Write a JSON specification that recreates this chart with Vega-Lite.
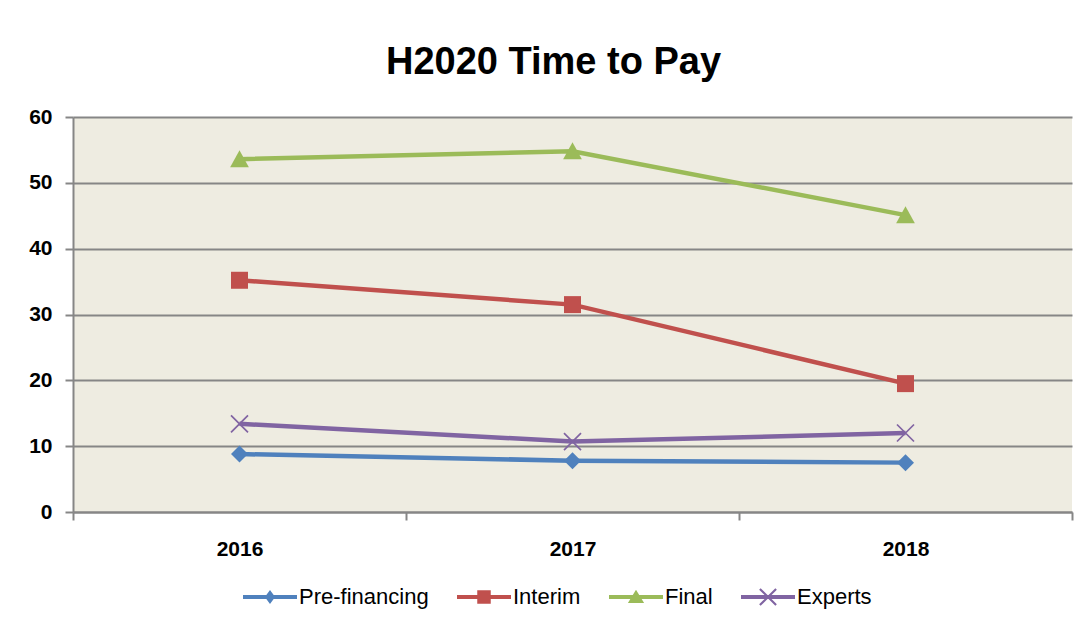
{
  "$schema": "https://vega.github.io/schema/vega-lite/v6.json",
  "autosize": "none",
  "width": 999,
  "height": 395,
  "padding": {"left": 73, "top": 117, "right": 13, "bottom": 114},
  "background": "white",
  "title": {
    "text": "H2020 Time to Pay",
    "font": "Liberation Sans",
    "fontSize": 38,
    "fontWeight": "bold",
    "color": "#000000",
    "anchor": "middle",
    "baseline": "alphabetic",
    "offset": -6,
    "dx": -19
  },
  "config": {
    "view": {"fill": "#EEECE1", "stroke": null},
    "axis": {
      "labelFont": "Liberation Sans",
      "labelFontSize": 21,
      "labelFontWeight": "bold",
      "labelColor": "#000000",
      "domainColor": "#868686",
      "domainWidth": 2,
      "tickColor": "#868686",
      "tickWidth": 2,
      "gridColor": "#868686",
      "gridWidth": 2,
      "title": null
    },
    "legend": {
      "labelFont": "Liberation Sans",
      "labelFontSize": 22,
      "labelColor": "#000000"
    }
  },
  "data": {
    "values": [
      {"series": "Pre-financing", "year": 2016, "days": 8.8},
      {"series": "Pre-financing", "year": 2017, "days": 7.8},
      {"series": "Pre-financing", "year": 2018, "days": 7.5},
      {"series": "Interim", "year": 2016, "days": 35.2},
      {"series": "Interim", "year": 2017, "days": 31.5},
      {"series": "Interim", "year": 2018, "days": 19.5},
      {"series": "Final", "year": 2016, "days": 53.6},
      {"series": "Final", "year": 2017, "days": 54.8},
      {"series": "Final", "year": 2018, "days": 45.1},
      {"series": "Experts", "year": 2016, "days": 13.4},
      {"series": "Experts", "year": 2017, "days": 10.7},
      {"series": "Experts", "year": 2018, "days": 12.0}
    ]
  },
  "encoding": {
    "x": {
      "field": "year",
      "type": "quantitative",
      "scale": {"domain": [2015.5, 2018.5], "nice": false, "zero": false},
      "axis": {
        "values": [2015.5, 2016, 2016.5, 2017, 2017.5, 2018, 2018.5],
        "grid": false,
        "tickSize": 8,
        "labelPadding": 18,
        "tickOpacity": {"condition": {"test": "datum.value % 1 == 0", "value": 0}, "value": 1},
        "labelExpr": "datum.value % 1 == 0 ? format(datum.value, 'd') : ''"
      }
    },
    "y": {
      "field": "days",
      "type": "quantitative",
      "scale": {"domain": [0, 60], "nice": false},
      "axis": {
        "values": [0, 10, 20, 30, 40, 50, 60],
        "grid": true,
        "tickSize": 8,
        "labelPadding": 13
      }
    },
    "color": {
      "field": "series",
      "type": "nominal",
      "scale": {
        "domain": ["Pre-financing", "Interim", "Final", "Experts"],
        "range": ["#4F81BD", "#C0504D", "#9BBB59", "#8064A2"]
      },
      "legend": null
    }
  },
  "layer": [
    {
      "mark": {"type": "line", "strokeWidth": 4.5},
      "encoding": {
        "color": {
          "field": "series",
          "type": "nominal",
          "scale": {
            "domain": ["Pre-financing", "Interim", "Final", "Experts"],
            "range": ["#4F81BD", "#C0504D", "#9BBB59", "#8064A2"]
          },
          "legend": {
            "title": null,
            "orient": "none",
            "direction": "horizontal",
            "legendX": 170,
            "legendY": 453,
            "padding": 0,
            "symbolSize": 2916,
            "symbolStrokeWidth": 0,
            "symbolOpacity": 1,
            "labelOffset": 2,
            "columnPadding": 28,
            "encode": {
              "symbols": {
                "update": {
                  "shape": {"signal": "datum.value === 'Pre-financing' ? 'M-1,-0.074H1V0.074H-1Z M-0.19,0L0,-0.26L0.19,0L0,0.26Z' : datum.value === 'Interim' ? 'M-1,-0.074H1V0.074H-1Z M-0.25,-0.25H0.25V0.25H-0.25Z' : datum.value === 'Final' ? 'M-1,-0.074H1V0.074H-1Z M0,-0.27L0.3,0.22H-0.3Z' : 'M-1,-0.074H1V0.074H-1Z M-0.272,-0.328L0.328,0.272L0.272,0.328L-0.328,-0.272Z M-0.328,0.272L0.272,-0.328L0.328,-0.272L-0.272,0.328Z'"},
                  "fill": {"scale": "color", "field": "value"},
                  "strokeWidth": {"value": 0}
                }
              }
            }
          }
        }
      }
    },
    {
      "transform": [{"filter": "datum.series === 'Pre-financing'"}],
      "mark": {"type": "point", "filled": true, "size": 289, "opacity": 1, "strokeWidth": 0, "shape": "M-1,0L0,-1L1,0L0,1Z"}
    },
    {
      "transform": [{"filter": "datum.series === 'Interim'"}],
      "mark": {"type": "point", "filled": true, "size": 289, "opacity": 1, "strokeWidth": 0, "shape": "M-1,-1H1V1H-1Z"}
    },
    {
      "transform": [{"filter": "datum.series === 'Final'"}],
      "mark": {"type": "point", "filled": true, "size": 289, "opacity": 1, "strokeWidth": 0, "shape": "M0,-1.05L1.1,0.95H-1.1Z"}
    },
    {
      "transform": [{"filter": "datum.series === 'Experts'"}],
      "mark": {"type": "point", "filled": true, "size": 289, "opacity": 1, "strokeWidth": 0, "shape": "M-0.93,-1.07L1.07,0.93L0.93,1.07L-1.07,-0.93Z M-1.07,0.93L0.93,-1.07L1.07,-0.93L-0.93,1.07Z"}
    }
  ]
}
